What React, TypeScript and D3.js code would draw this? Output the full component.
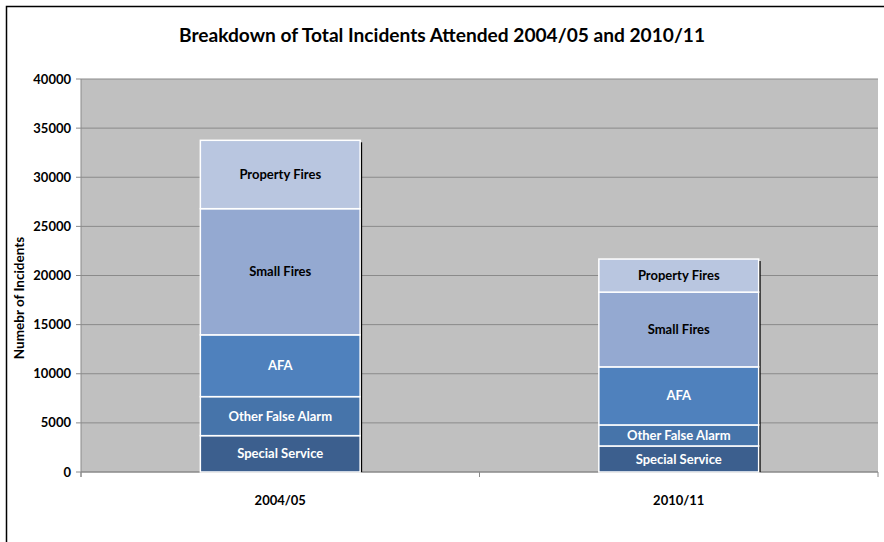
import React from "react";
import * as d3 from "d3";

const categories = ["2004/05", "2010/11"];
const seriesNames = ["Special Service", "Other False Alarm", "AFA", "Small Fires", "Property Fires"];
const specialService = [3700, 2650];
const otherFalseAlarm = [3970, 2140];
const afa = [6290, 5910];
const smallFires = [12840, 7610];
const propertyFires = [6960, 3365];
const yTicks = [0, 5000, 10000, 15000, 20000, 25000, 30000, 35000, 40000];

const seriesColors = ["#3C5F8E", "#4674AA", "#4F81BD", "#94A9D1", "#B9C6E0"];
const labelColors = ["#ffffff", "#ffffff", "#ffffff", "#000000", "#000000"];

const W = 884;
const H = 542;
const plot = { left: 81, right: 878, top: 79, bottom: 472 };
const FONT = "Lato, 'Open Sans', sans-serif";

export default function App() {
  const rows = categories.map((c, i) => ({
    cat: c,
    "Special Service": specialService[i],
    "Other False Alarm": otherFalseAlarm[i],
    AFA: afa[i],
    "Small Fires": smallFires[i],
    "Property Fires": propertyFires[i],
  }));
  const stacked = d3.stack<any>().keys(seriesNames)(rows);

  const x = d3.scaleBand<string>().domain(categories).range([plot.left, plot.right]).padding(0);
  const y = d3.scaleLinear().domain([0, 40000]).range([plot.bottom, plot.top]);
  const barW = x.bandwidth() * 0.401;

  return (
    <svg width={W} height={H} style={{ position: "absolute", left: 0, top: 0, background: "#fff" }}>
      <rect x={6.5} y={6.5} width={W + 10} height={H + 10} fill="#fff" stroke="#000" strokeWidth={1.5} />
      <text
        x={442}
        y={42}
        textAnchor="middle"
        fontFamily={FONT}
        fontWeight="bold"
        fontSize={19}
        textLength={526}
        lengthAdjust="spacingAndGlyphs"
        fill="#000"
      >
        Breakdown of Total Incidents Attended 2004/05 and 2010/11
      </text>
      <rect x={plot.left} y={plot.top} width={plot.right - plot.left} height={plot.bottom - plot.top} fill="#C0C0C0" />
      {yTicks.map((t) => (
        <g key={t}>
          {t > 0 && (
            <line x1={plot.left} x2={plot.right} y1={y(t)} y2={y(t)} stroke="#8A8A8A" strokeWidth={1} />
          )}
          <line x1={plot.left - 5} x2={plot.left} y1={y(t)} y2={y(t)} stroke="#8A8A8A" strokeWidth={1} />
          <text
            x={plot.left - 10}
            y={y(t)}
            dy="0.35em"
            textAnchor="end"
            fontFamily={FONT}
            fontWeight="bold"
            fontSize={13}
            fill="#000"
          >
            {t}
          </text>
        </g>
      ))}
      <line x1={plot.left} x2={plot.left} y1={plot.top} y2={plot.bottom + 5} stroke="#8A8A8A" strokeWidth={1} />
      <line x1={plot.left} x2={plot.right} y1={plot.bottom} y2={plot.bottom} stroke="#8A8A8A" strokeWidth={1.5} />
      {[...categories.map((c) => x(c) as number), plot.right].map((px, i) => (
        <line key={i} x1={px} x2={px} y1={plot.bottom} y2={plot.bottom + 5} stroke="#8A8A8A" strokeWidth={1} />
      ))}
      {categories.map((c) => (
        <text
          key={c}
          x={(x(c) as number) + x.bandwidth() / 2}
          y={505}
          textAnchor="middle"
          fontFamily={FONT}
          fontWeight="bold"
          fontSize={13}
          fill="#000"
        >
          {c}
        </text>
      ))}
      <text
        transform={`translate(24,298) rotate(-90)`}
        textAnchor="middle"
        fontFamily={FONT}
        fontWeight="bold"
        fontSize={13.5}
        fill="#000"
      >
        Numebr of Incidents
      </text>
      {categories.map((c, ci) => {
        const cx = (x(c) as number) + x.bandwidth() / 2;
        const top = y(stacked[stacked.length - 1][ci][1]);
        return (
          <rect
            key={"sh" + c}
            x={cx + barW / 2 - 0.5}
            y={top + 2}
            width={2.5}
            height={plot.bottom - top - 2}
            fill="#000"
          />
        );
      })}
      {stacked.map((s, si) =>
        s.map((d, ci) => {
          const cx = (x(categories[ci]) as number) + x.bandwidth() / 2;
          const y0 = y(d[0]);
          const y1 = y(d[1]);
          return (
            <g key={s.key + ci}>
              <rect
                x={cx - barW / 2}
                y={y1}
                width={barW}
                height={y0 - y1}
                fill={seriesColors[si]}
                stroke="#fff"
                strokeWidth={1.5}
              />
              <text
                x={cx}
                y={(y0 + y1) / 2}
                dy="0.35em"
                textAnchor="middle"
                fontFamily={FONT}
                fontWeight="bold"
                fontSize={13}
                fill={labelColors[si]}
              >
                {s.key}
              </text>
            </g>
          );
        })
      )}
    </svg>
  );
}
